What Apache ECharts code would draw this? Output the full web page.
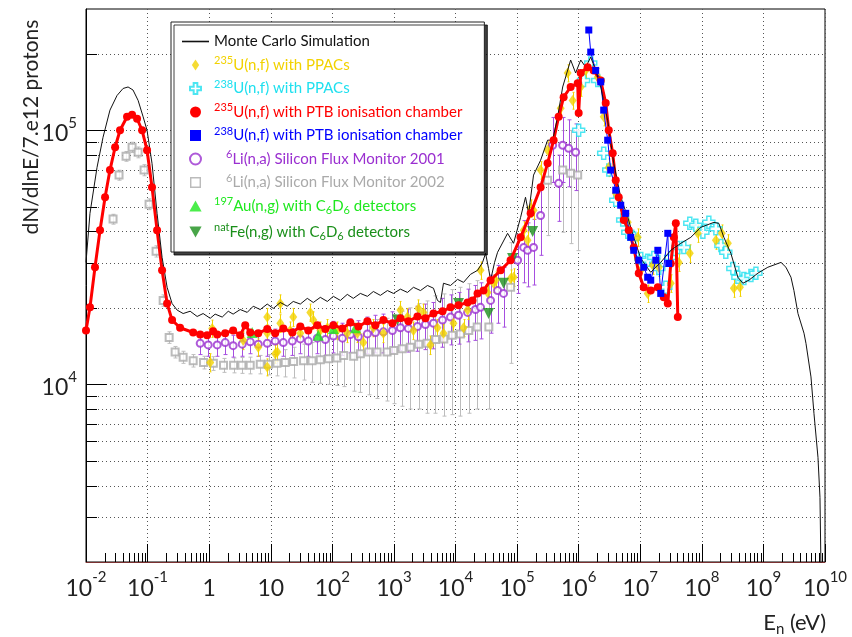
<!DOCTYPE html>
<html>
<head>
<meta charset="utf-8">
<script src="https://cdn.jsdelivr.net/npm/echarts@6.0.0/dist/echarts.min.js"></script>
<style>
  html, body { margin: 0; padding: 0; background: #fff; }
  #chart { width: 852px; height: 637px; }
</style>
</head>
<body>
<div id="chart"></div>
<script>
var FONT = 'Lato';

// axis ranges
var xMin = 0.01, xMax = 1e10, yMin = 2000, yMax = 3e5;

// Monte Carlo simulation
var mcE = [0.01,0.0116,0.0151,0.0189,0.0245,0.0319,0.040,0.0482,0.058,0.0702,
  0.0846,0.098,0.118,0.1426,0.172,0.2075,0.25,0.302,0.378,0.491,
  0.638,0.798,1.04,1.25,1.63,2.04,2.45,3.19,4.15,5.19,
  6.75,8.77,11.0,14.3,18.5,23.2,30.2,39.2,49.1,63.8,
  83,104,135,175,219,285,371,464,603,784,
  982,1276,1660,2075,2700,3510,4390,5090,5700,6380,
  8300,1.08e4,1.35e4,1.75e4,2.28e4,2.75e4,3.08e4,3.44e4,3.71e4,4.31e4,
  4.82e4,7.01e4,8.77e4,1.14e5,1.37e5,1.54e5,1.85e5,2.41e5,3.13e5,3.78e5,
  4.56e5,5.5e5,6.15e5,7.41e5,8.93e5,1.08e6,1.3e6,1.57e6,1.89e6,2.28e6,
  2.96e6,3.71e6,4.82e6,6.27e6,7.84e6,1.02e7,1.48e7,2.15e7,3.13e7,4.56e7,
  6.62e7,9.64e7,1.57e8,1.89e8,2.28e8,2.96e8,3.85e8,4.64e8,5.81e8,8.15e8,
  1.18e9,1.93e9,2.32e9,2.8e9,3.13e9,3.64e9,4.56e9,4.91e9,5.92e9,6.62e9,
  7.69e9,8.29e9,8.6e9];
var mcN = [3.02e4,4.71e4,7.14e4,9.38e4,1.2e5,1.37e5,1.46e5,1.48e5,1.44e5,1.31e5,
  1.13e5,1.0e5,7.41e4,4.71e4,3.16e4,2.41e4,2.08e4,1.96e4,1.90e4,1.94e4,
  1.85e4,1.90e4,1.82e4,1.89e4,1.84e4,1.94e4,1.89e4,1.97e4,1.92e4,2.03e4,
  1.97e4,2.07e4,1.99e4,2.10e4,2.03e4,2.12e4,2.07e4,2.18e4,2.10e4,2.20e4,
  2.12e4,2.22e4,2.14e4,2.26e4,2.18e4,2.28e4,2.22e4,2.32e4,2.24e4,2.34e4,
  2.28e4,2.37e4,2.30e4,2.41e4,2.34e4,2.45e4,2.39e4,2.14e4,2.10e4,2.50e4,
  2.45e4,2.59e4,2.52e4,2.71e4,2.81e4,3.02e4,3.28e4,2.86e4,2.57e4,3.02e4,
  3.31e4,3.93e4,3.59e4,4.54e4,5.45e4,4.71e4,6.66e4,7.62e4,9.14e4,9.14e4,
  1.13e5,1.48e5,1.62e5,1.89e5,1.68e5,1.89e5,1.77e5,1.94e5,1.72e5,1.48e5,
  1.09e5,7.41e4,5.45e4,4.54e4,3.79e4,3.13e4,2.76e4,3.02e4,3.37e4,3.59e4,
  3.79e4,4.15e4,4.34e4,4.30e4,3.79e4,3.28e4,2.64e4,2.50e4,2.57e4,2.74e4,
  2.89e4,3.02e4,2.89e4,2.64e4,2.34e4,1.90e4,1.59e4,1.45e4,1.07e4,7.69e3,
  5.16e3,3.59e3,1.9e3];

// 235U(n,f) PTB ionisation chamber
var redE = [0.01,0.0116,0.014,0.0169,0.0204,0.0245,0.0297,0.0357,0.0464,0.056,
  0.0675,0.0815,0.098,0.118,0.1426,0.172,0.2075,0.25,0.337,0.55,
  0.715,0.927,1.16,1.35,1.82,2.45,3.19,3.85,4.64,6.27,
  8.77,11.8,16,22.4,30.2,40.7,57,76.9,104,146,
  196,265,371,500,675,946,1276,1720,2410,3250,
  4390,6150,8300,1.12e4,1.57e4,1.89e4,2.28e4,2.85e4,3.71e4,5.4e4,
  7.84e4,1.14e5,1.66e5,2.41e5,3.13e5,3.92e5,4.73e5,5.7e5,7.41e5,9.64e5,
  1.0e6,1.08e6,1.4e6,1.75e6,2.28e6,2.75e6,3.08e6,3.57e6,4.0e6,4.47e6,
  5.4e6,6.5e6,7.84e6,9.46e6,1.14e7,1.48e7,1.93e7,2.41e7,2.8e7,3.13e7,
  3.51e7,3.78e7,4.07e7];
var redN = [1.63e4,2.01e4,2.89e4,4.04e4,5.45e4,6.97e4,8.57e4,1.0e5,1.13e5,1.15e5,
  1.11e5,1.0e5,8.34e4,5.97e4,4.04e4,2.81e4,2.08e4,1.79e4,1.67e4,1.60e4,
  1.57e4,1.56e4,1.62e4,1.57e4,1.59e4,1.63e4,1.56e4,1.71e4,1.60e4,1.59e4,
  1.65e4,1.59e4,1.66e4,1.60e4,1.69e4,1.63e4,1.71e4,1.65e4,1.71e4,1.66e4,
  1.75e4,1.69e4,1.77e4,1.71e4,1.79e4,1.74e4,1.82e4,1.77e4,1.85e4,1.82e4,
  1.90e4,1.94e4,2.01e4,2.05e4,2.10e4,2.14e4,2.28e4,2.34e4,2.57e4,2.81e4,
  3.08e4,3.79e4,4.71e4,5.97e4,7.41e4,9.14e4,1.13e5,1.35e5,1.48e5,1.53e5,
  1.17e5,1.68e5,1.77e5,1.72e5,1.57e5,1.28e5,1.0e5,8.11e4,6.35e4,5.45e4,
  4.43e4,4.04e4,3.46e4,2.74e4,2.41e4,2.34e4,2.41e4,2.20e4,2.08e4,2.99e4,
  3.79e4,4.31e4,1.84e4];

// 238U(n,f) PTB ionisation chamber
var blueE = [1.46e6,1.57e6,1.89e6,2.28e6,2.55e6,2.96e6,3.31e6,4.0e6,4.82e6,5.81e6,
  7.01e6,7.84e6,9.46e6,1.14e7,1.32e7,1.48e7,1.79e7,1.93e7,2.15e7,2.8e7,2.9e7];
var blueN = [2.48e5,2.03e5,1.72e5,1.55e5,1.2e5,9.14e4,6.97e4,5.81e4,5.07e4,4.71e4,
  3.79e4,3.37e4,3.08e4,2.89e4,2.64e4,2.57e4,3.08e4,3.37e4,2.28e4,3.93e4,2.99e4];

// 238U(n,f) PPACs
var cyanE = [1.0e6,1.2e6,1.57e6,2.04e6,2.55e6,3.08e6,4.0e6,5.19e6,6.27e6,7.84e6,
  1.02e7,1.32e7,1.66e7,2.0e7,2.6e7,3.13e7,4.07e7,5.1e7,6.38e7,7.98e7,
  1.04e8,1.3e8,1.69e8,2.04e8,2.45e8,3.19e8,3.85e8,4.82e8,6.27e8,7.55e8];
var cyanN = [1.0e5,1.57e5,1.84e5,1.57e5,8.11e4,6.97e4,5.3e4,4.43e4,3.97e4,3.76e4,
  3.13e4,3.08e4,3.16e4,2.86e4,2.41e4,3.16e4,3.46e4,3.46e4,4.31e4,4.23e4,
  3.97e4,4.34e4,4.1e4,3.52e4,3.31e4,2.86e4,2.64e4,2.61e4,2.68e4,2.74e4];

// 235U(n,f) PPACs
var yelE = [1.04,1.12,3.57,6.27,8.77,8.77,8.77,11.8,12.8,14.3,
  14.3,20.7,23.2,30.2,43.9,49.1,63.8,83,120,175,
  255,319,464,675,1276,1660,2075,2500,3020,3920,
  5090,6380,9270,1.35e4,1.57e4,2.55e4,3.31e4,4.15e4,4.47e4,7.84e4,
  8.77e4,1.28e5,1.48e5,1.66e5,1.85e5,2.41e5,3.13e5,5.1e5,6.62e5,7.98e5,
  1.08e6,1.3e6,2.04e6,2.55e6,3.08e6,4.0e6,6.27e6,9.1e6,1.02e7,1.32e7,
  1.6e7,2.0e7,3.13e7,4.23e7,6.38e7,8.6e7,1.69e8,2.11e8,2.65e8,3.31e8,4.15e8];
var yelN = [1.22e4,1.66e4,1.49e4,1.40e4,1.84e4,1.59e4,1.17e4,1.32e4,1.34e4,2.08e4,
  1.74e4,1.63e4,1.84e4,1.59e4,1.92e4,1.79e4,1.63e4,1.67e4,1.63e4,1.59e4,
  1.59e4,1.46e4,1.67e4,1.59e4,1.96e4,1.84e4,1.63e4,1.99e4,1.92e4,1.43e4,
  1.67e4,1.59e4,1.74e4,1.67e4,1.96e4,2.81e4,2.30e4,2.50e4,2.57e4,2.61e4,
  2.64e4,4.04e4,3.69e4,4.93e4,4.84e4,6.97e4,8.34e4,1.22e5,1.68e5,1.31e5,
  1.48e5,1.72e5,1.62e5,1.13e5,7.14e4,5.65e4,4.34e4,3.79e4,2.81e4,2.28e4,
  2.94e4,2.89e4,2.50e4,3.02e4,3.28e4,3.93e4,3.69e4,3.93e4,3.59e4,2.39e4,2.41e4];
var yelErr = [1000,1300,1200,1100,1500,1300,900,1100,1100,1700,
  1400,1300,1500,1300,1500,1400,1300,1300,1300,1300,
  1300,1200,1300,1300,1600,1500,1300,1600,1500,1200,
  1300,1300,1400,1300,1600,2200,1800,2000,2000,2100,
  2100,3200,2900,3900,3800,5500,6600,9700,13000,10000,
  12000,14000,13000,9000,5700,4500,3500,3000,2200,1800,
  2300,2300,2000,2400,2600,3100,2900,3100,2900,1900,1900];

// 6Li(n,a) Silicon Flux Monitor 2001
var purE = [0.715,0.964,1.35,1.82,2.45,3.44,4.64,6.27,8.77,11.8,
  16,22.4,30.2,40.7,57,76.9,104,146,196,265,
  371,500,675,946,1276,1720,2410,3250,4390,6150,
  8300,1.12e4,1.57e4,2.11e4,2.55e4,3.71e4,4.82e4,6.03e4,1.02e5,1.28e5,
  1.48e5,1.85e5,2.41e5,3.78e5,4.73e5,5.5e5,6.87e5,8.93e5];
var purN = [1.45e4,1.43e4,1.43e4,1.46e4,1.42e4,1.44e4,1.47e4,1.44e4,1.45e4,1.48e4,
  1.46e4,1.48e4,1.51e4,1.48e4,1.52e4,1.50e4,1.55e4,1.52e4,1.57e4,1.54e4,
  1.58e4,1.60e4,1.61e4,1.63e4,1.67e4,1.66e4,1.69e4,1.72e4,1.74e4,1.79e4,
  1.84e4,1.87e4,1.92e4,1.97e4,2.01e4,2.14e4,2.34e4,2.28e4,3.08e4,3.46e4,
  3.37e4,3.46e4,4.62e4,8.73e4,6.18e4,8.73e4,8.49e4,8.19e4];
var purErr = [1400,1400,1400,1500,1400,1500,1500,1500,1600,1700,
  1700,1800,1900,1900,2000,2000,2200,2200,2400,2400,
  2600,2700,2800,3000,3100,3200,3400,3500,3600,3900,
  4100,4300,4500,4800,5000,5500,6000,6000,8000,9500,
  9500,10000,14000,25000,18000,25000,25000,24000];

// 6Li(n,a) Silicon Flux Monitor 2002
var grayE = [0.0275,0.0344,0.0447,0.056,0.0702,0.0877,0.1057,0.1374,0.179,0.224,
  0.28,0.378,0.55,0.81,1.17,1.71,2.49,3.40,4.64,6.75,
  9.2,12.6,17.2,23.5,34.1,46.8,63.8,87,119,153,
  222,285,389,533,775,993,1360,1850,2530,3470,
  4730,6460,8830,1.2e4,1.64e4,2.25e4,3.48e4,7.84e4,3.13e5,5.5e5,
  7.41e5,9.64e5];
var grayN = [4.47e4,6.66e4,7.9e4,8.57e4,8.19e4,6.97e4,5.12e4,3.34e4,2.14e4,1.53e4,
  1.34e4,1.28e4,1.24e4,1.22e4,1.21e4,1.19e4,1.19e4,1.19e4,1.19e4,1.20e4,
  1.20e4,1.21e4,1.22e4,1.23e4,1.24e4,1.24e4,1.25e4,1.26e4,1.27e4,1.30e4,
  1.29e4,1.32e4,1.34e4,1.34e4,1.34e4,1.36e4,1.38e4,1.40e4,1.44e4,1.45e4,
  1.50e4,1.51e4,1.56e4,1.58e4,1.63e4,1.68e4,1.68e4,2.41e4,6.35e4,6.97e4,
  6.78e4,6.66e4];
var grayErr = [2000,3000,3500,4000,4000,3500,2500,1700,1100,800,
  700,700,700,700,750,750,800,850,900,1000,
  1100,1300,1500,1700,2000,2200,2400,2600,2800,3200,
  3500,3900,4300,4600,4800,5200,5600,6000,6400,6800,
  7300,7600,8000,8300,8600,8800,8800,12000,25000,30000,
  32000,33000];

// 197Au(n,g) and natFe(n,g) with C6D6
var auE = [5.0, 59.2, 104, 237];
var auN = [1.60e4, 1.56e4, 1.66e4, 1.67e4];
var feE = [1140, 1.12e4, 3.44e4, 6.03e4, 8.45e4, 1.79e5];
var feN = [1.79e4, 2.08e4, 1.90e4, 2.50e4, 3.13e4, 4.0e4];

var N_MC = 'Monte Carlo Simulation';
var N_Y = '235U(n,f) with PPACs';
var N_C = '238U(n,f) with PPACs';
var N_R = '235U(n,f) with PTB ionisation chamber';
var N_B = '238U(n,f) with PTB ionisation chamber';
var N_P = '6Li(n,a) Silicon Flux Monitor 2001';
var N_G = '6Li(n,a) Silicon Flux Monitor 2002';
var N_AU = '197Au(n,g) with C6D6 detectors';
var N_FE = 'natFe(n,g) with C6D6 detectors';

var legendText = {};
legendText[N_MC] = '{t|Monte Carlo Simulation}';
legendText[N_Y] = '{s|235}{t|U(n,f) with PPACs}';
legendText[N_C] = '{s|238}{t|U(n,f) with PPACs}';
legendText[N_R] = '{s|235}{t|U(n,f) with PTB ionisation chamber}';
legendText[N_B] = '{s|238}{t|U(n,f) with PTB ionisation chamber}';
legendText[N_P] = '{sp|6}{t|Li(n,a) Silicon Flux Monitor 2001}';
legendText[N_G] = '{sp|6}{t|Li(n,a) Silicon Flux Monitor 2002}';
legendText[N_AU] = '{s|197}{t|Au(n,g) with C}{u|6}{t|D}{u|6}{t| detectors}';
legendText[N_FE] = '{s|nat}{t|Fe(n,g) with C}{u|6}{t|D}{u|6}{t| detectors}';

var C_YEL = '#f2d200', C_CYAN = '#1fe0ef', C_RED = '#ff0000', C_BLUE = '#0000ff',
    C_PUR = '#9a2fd0', C_GRAY = '#aaaaaa', C_GREEN = '#1ee81e', C_DKGREEN = '#1a8f1a';

// marker and legend icon shapes
var crossPath = 'path://M4,0H8V4H12V8H8V12H4V8H0V4H4Z';
var downTri = 'path://M0,0H10L5,9Z';
var upTri = 'path://M5,0L10,9H0Z';
var diamondIcon = 'path://M4,0L8,6L4,12L0,6Z';
var squareIcon = 'path://M0,0H10V10H0Z';
var openSquareIcon = 'path://M0,0H10V10H0ZM1.3,1.3V8.7H8.7V1.3Z';
var lineIcon = 'path://M0,0H27V1.6H0Z';

function pairs(xs, ys) {
  return xs.map(function (x, i) { return [x, ys[i]]; });
}
function errData(xs, ys, es) {
  return xs.map(function (x, i) { return [x, ys[i] - es[i], ys[i] + es[i]]; });
}

function errorBars(color, cap) {
  return function (params, api) {
    var x = api.value(0);
    var lo = api.coord([x, api.value(1)]);
    var hi = api.coord([x, api.value(2)]);
    var px = Math.round(lo[0]) + 0.5;
    var st = { stroke: color, lineWidth: 1 };
    return {
      type: 'group',
      children: [
        { type: 'line', shape: { x1: px, y1: lo[1], x2: px, y2: hi[1] }, style: st },
        { type: 'line', shape: { x1: px - cap, y1: lo[1], x2: px + cap, y2: lo[1] }, style: st },
        { type: 'line', shape: { x1: px - cap, y1: hi[1], x2: px + cap, y2: hi[1] }, style: st }
      ]
    };
  };
}

// grid lines and minor ticks for the log axes
var yGridValues = [];
for (var d = 3; d <= 5; d++) {
  for (var k = 1; k <= 9; k++) {
    var v = k * Math.pow(10, d);
    if (v > yMin && v < yMax) yGridValues.push([xMin, v, k === 1 ? 1 : 0]);
  }
}
var xMinorValues = [];
for (var e = -2; e <= 9; e++) {
  for (var m = 2; m <= 9; m++) xMinorValues.push([m * Math.pow(10, e), yMin]);
}

function renderYGrid(params, api) {
  var cs = params.coordSys;
  var y = Math.round(api.coord([xMin, api.value(1)])[1]) + 0.5;
  var len = api.value(2) ? 21 : 11;
  return {
    type: 'group',
    children: [
      { type: 'line', shape: { x1: cs.x, y1: y, x2: cs.x + cs.width, y2: y },
        style: { stroke: '#555', lineWidth: 1, lineDash: [1, 3] } },
      { type: 'line', shape: { x1: cs.x, y1: y, x2: cs.x + len, y2: y },
        style: { stroke: '#000', lineWidth: 1 } }
    ]
  };
}
function renderXMinor(params, api) {
  var cs = params.coordSys;
  var x = Math.round(api.coord([api.value(0), yMin])[0]) + 0.5;
  var y0 = cs.y + cs.height;
  return { type: 'line', shape: { x1: x, y1: y0, x2: x, y2: y0 - 9 },
    style: { stroke: '#000', lineWidth: 1 } };
}

function richFor(color) {
  return {
    t: { color: color, fontSize: 15, lineHeight: 20, fontFamily: FONT },
    s: { color: color, fontSize: 11, verticalAlign: 'top', fontFamily: FONT },
    sp: { color: color, fontSize: 11, verticalAlign: 'top', padding: [0, 0, 0, 12], fontFamily: FONT },
    u: { color: color, fontSize: 11, verticalAlign: 'bottom', fontFamily: FONT }
  };
}
function legendItem(name, color, icon) {
  return { name: name, icon: icon, textStyle: { color: color, rich: richFor(color) } };
}

var tickRich = {
  b: { fontSize: 23, lineHeight: 30, verticalAlign: 'bottom', color: '#222', fontFamily: FONT },
  s: { fontSize: 15, verticalAlign: 'top', color: '#222', fontFamily: FONT }
};

var chart = echarts.init(document.getElementById('chart'));
chart.setOption({
  animation: false,
  backgroundColor: '#fff',
  textStyle: { fontFamily: FONT },
  grid: { left: 86, right: 27, top: 9, bottom: 75, show: true, borderColor: '#000', borderWidth: 1 },
  title: {
    text: '{b|E}{u|n}{b| (eV)}',
    right: 21, top: 604,
    textStyle: {
      fontWeight: 'normal',
      rich: {
        b: { fontSize: 22, lineHeight: 28, color: '#222', fontFamily: FONT, fontWeight: 'normal' },
        u: { fontSize: 15, verticalAlign: 'bottom', color: '#222', fontFamily: FONT, fontWeight: 'normal' }
      }
    }
  },
  graphic: [{
    type: 'text', x: 31, y: 127, rotation: Math.PI / 2,
    style: {
      text: 'dN/dlnE/7.e12 protons', font: '21px Lato', fill: '#222',
      align: 'center', verticalAlign: 'middle', textAlign: 'center', textVerticalAlign: 'middle'
    }
  }],
  legend: {
    orient: 'vertical', left: 171, top: 22, z: 10,
    padding: [12, 22, 10, 11], itemGap: 6, itemWidth: 27, itemHeight: 11,
    symbolKeepAspect: true,
    backgroundColor: '#fff', borderColor: '#222', borderWidth: 1,
    shadowColor: 'rgba(0,0,0,0.75)', shadowOffsetX: 3, shadowOffsetY: 3, shadowBlur: 0,
    selectedMode: false,
    formatter: function (name) { return legendText[name]; },
    data: [
      legendItem(N_MC, '#111', lineIcon),
      legendItem(N_Y, C_YEL, diamondIcon),
      legendItem(N_C, C_CYAN, crossPath),
      legendItem(N_R, C_RED, 'circle'),
      legendItem(N_B, C_BLUE, squareIcon),
      legendItem(N_P, C_PUR, 'emptyCircle'),
      legendItem(N_G, C_GRAY, openSquareIcon),
      legendItem(N_AU, C_GREEN, upTri),
      legendItem(N_FE, C_DKGREEN, downTri)
    ]
  },
  xAxis: {
    type: 'log', logBase: 10, min: xMin, max: xMax, interval: 1,
    axisLine: { show: true, lineStyle: { color: '#7a3030', width: 1 } },
    axisTick: { show: true, inside: true, length: 18, lineStyle: { color: '#000' } },
    splitLine: { show: true, lineStyle: { color: '#555', type: [1, 3] } },
    axisLabel: {
      margin: 8, showMinLabel: true, showMaxLabel: true, hideOverlap: false,
      rich: tickRich,
      formatter: function (val) {
        var ex = Math.round(Math.log10(val));
        if (ex === 0) return '{b|1}';
        if (ex === 1) return '{b|10}';
        return '{b|10}{s|' + ex + '}';
      }
    }
  },
  yAxis: {
    type: 'log', logBase: 10, min: yMin, max: yMax,
    axisLine: { show: true, lineStyle: { color: '#000', width: 1 } },
    axisTick: { show: false },
    splitLine: { show: false },
    axisLabel: {
      margin: 9, rich: tickRich, showMinLabel: true, showMaxLabel: true,
      formatter: function (val) {
        var ex = Math.log10(val);
        if (Math.abs(ex - Math.round(ex)) > 1e-6) return '';
        return '{b|10}{s|' + Math.round(ex) + '}';
      }
    }
  },
  series: [
    { name: 'ygrid', type: 'custom', silent: true, renderItem: renderYGrid, data: yGridValues, z: 1 },
    { name: 'xminor', type: 'custom', silent: true, renderItem: renderXMinor, data: xMinorValues, z: 1 },
    { name: 'gray-err', type: 'custom', silent: true, clip: true,
      renderItem: errorBars('#bdbdbd', 2), data: errData(grayE, grayN, grayErr) },
    { name: N_G, type: 'scatter', symbol: 'emptyRect', symbolSize: 7,
      itemStyle: { color: C_GRAY }, data: pairs(grayE, grayN) },
    { name: 'pur-err', type: 'custom', silent: true, clip: true,
      renderItem: errorBars('#a64ee0', 2), data: errData(purE, purN, purErr) },
    { name: N_P, type: 'scatter', symbol: 'emptyCircle', symbolSize: 7,
      itemStyle: { color: C_PUR }, data: pairs(purE, purN) },
    { name: N_R, type: 'line', symbol: 'circle', symbolSize: 8, showAllSymbol: true, clip: true,
      lineStyle: { color: C_RED, width: 3 }, itemStyle: { color: C_RED }, data: pairs(redE, redN) },
    { name: N_B, type: 'line', symbol: 'rect', symbolSize: 7, showAllSymbol: true,
      lineStyle: { color: C_BLUE, width: 1 }, itemStyle: { color: C_BLUE }, data: pairs(blueE, blueN) },
    { name: N_C, type: 'scatter', symbol: crossPath, symbolSize: 12,
      itemStyle: { color: '#fff', borderColor: C_CYAN, borderWidth: 1.5 }, data: pairs(cyanE, cyanN) },
    { name: 'yel-err', type: 'custom', silent: true, clip: true,
      renderItem: errorBars(C_YEL, 1), data: errData(yelE, yelN, yelErr) },
    { name: N_Y, type: 'scatter', symbol: 'diamond', symbolSize: [8, 11],
      itemStyle: { color: C_YEL }, data: pairs(yelE, yelN) },
    { name: N_AU, type: 'scatter', symbol: 'triangle', symbolSize: 11,
      itemStyle: { color: C_GREEN }, data: pairs(auE, auN) },
    { name: N_FE, type: 'scatter', symbol: downTri, symbolSize: 11,
      itemStyle: { color: C_DKGREEN }, data: pairs(feE, feN) },
    { name: N_MC, type: 'line', symbol: 'none', clip: true,
      lineStyle: { color: '#111', width: 1 }, itemStyle: { color: '#111' }, data: pairs(mcE, mcN) }
  ]
});
</script>
</body>
</html>
